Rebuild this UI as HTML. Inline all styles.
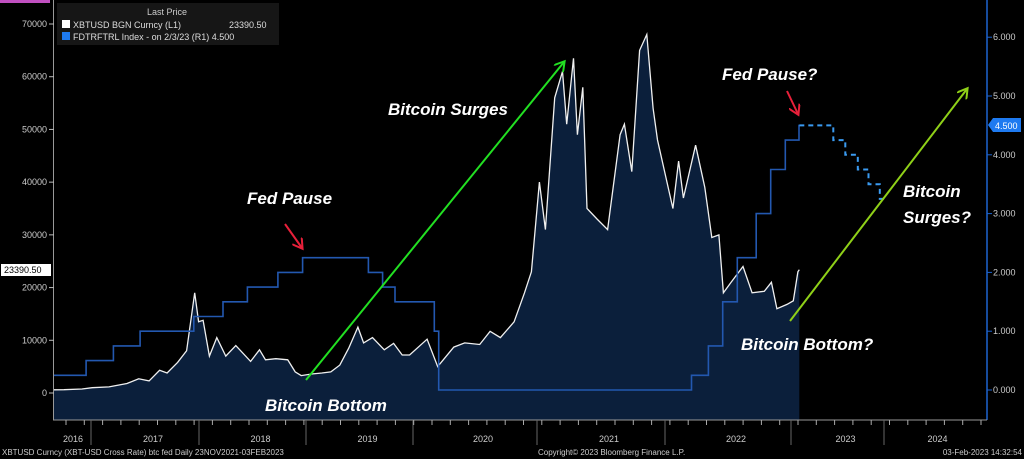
<!DOCTYPE html>
<html><head><meta charset="utf-8">
<style>
html,body{margin:0;padding:0;background:#000;}
svg{display:block;font-family:"Liberation Sans",sans-serif;}
.ann{font-family:"Liberation Sans",sans-serif;font-weight:bold;font-style:italic;font-size:17px;fill:#fff;}
.tk{font-size:9px;fill:#ccc;}
</style></head>
<body>
<svg id="chart" width="1024" height="459" viewBox="0 0 1024 459">
<defs>
<clipPath id="pc"><rect x="54" y="0" width="933" height="420"/></clipPath>
</defs>
<g id="plot" clip-path="url(#pc)"></g>
<g id="axes"></g>
</svg>
<script>
const priceDates=["2016-06-01","2016-08-01","2016-10-01","2016-12-01","2017-01-05","2017-03-01","2017-05-01","2017-06-10","2017-07-15","2017-08-20","2017-09-15","2017-10-20","2017-11-20","2017-12-17","2017-12-30","2018-01-15","2018-02-06","2018-03-01","2018-04-01","2018-05-05","2018-06-25","2018-07-25","2018-08-15","2018-09-20","2018-10-30","2018-11-25","2018-12-15","2019-01-20","2019-02-25","2019-03-25","2019-04-25","2019-05-25","2019-06-26","2019-07-15","2019-08-15","2019-09-25","2019-10-26","2019-11-25","2019-12-20","2020-02-12","2020-03-13","2020-04-30","2020-06-01","2020-07-15","2020-08-15","2020-09-15","2020-10-25","2020-11-25","2020-12-15","2021-01-08","2021-01-25","2021-02-21","2021-03-13","2021-03-25","2021-04-14","2021-04-25","2021-05-10","2021-05-22","2021-06-20","2021-07-20","2021-08-25","2021-09-07","2021-09-28","2021-10-20","2021-11-10","2021-11-28","2021-12-10","2022-01-24","2022-02-10","2022-02-24","2022-03-29","2022-04-25","2022-05-15","2022-06-05","2022-06-18","2022-07-10","2022-08-14","2022-09-10","2022-10-15","2022-11-05","2022-11-21","2022-12-20","2023-01-10","2023-01-28","2023-02-03"];
const priceValues=[600,580,620,760,1000,1150,1800,2700,2300,4300,3800,5800,8000,19000,13500,13800,7000,10500,7000,9000,6000,8200,6300,6500,6300,4000,3300,3600,3800,4000,5300,8500,12500,9500,10500,8200,9400,7200,7200,10200,5000,8700,9500,9200,11700,10500,13500,19000,23000,40000,31000,56000,61000,51000,63500,49000,58000,35000,33000,31000,49000,51000,42000,65000,68000,54000,48000,35000,44000,37000,47000,39000,29500,30000,19000,21000,24000,19000,19300,21000,16000,16800,17500,23000,23390];
const rateDates=["2016-06-01","2016-12-15","2017-03-16","2017-06-15","2017-12-14","2018-03-22","2018-06-14","2018-09-27","2018-12-20","2019-08-01","2019-09-19","2019-10-31","2020-03-03","2020-03-16","2022-03-17","2022-05-05","2022-06-16","2022-07-28","2022-09-22","2022-11-03","2022-12-15","2023-02-02","2023-02-03"];
const rateValues=[0.25,0.5,0.75,1.0,1.25,1.5,1.75,2.0,2.25,2.0,1.75,1.5,1.0,0.0,0.25,0.75,1.5,2.25,3.0,3.75,4.25,4.5,4.5];
const fcDates=["2023-02-03","2023-05-01","2023-06-15","2023-08-01","2023-09-20","2023-11-01","2023-12-15","2024-01-05"];
const fcValues=[4.5,4.5,4.25,4.0,3.75,3.5,3.25,3.25];
const leftTicks=[0,10000,20000,30000,40000,50000,60000,70000];
const rightTicks=[0,1,2,3,4,5,6];
const years=[2016,2017,2018,2019,2020,2021,2022,2023,2024];
const yearStarts=[-17,91,199,306,413,537,665,791,884,975];

const NS="http://www.w3.org/2000/svg";
function el(t,a,p){const e=document.createElementNS(NS,t);for(const k in a)e.setAttribute(k,a[k]);p.appendChild(e);return e;}
function xOf(d){const [y,m,dd]=d.split("-").map(Number);const f=((m-1)+(dd-1)/30.5)/12;const i=y-2016;return yearStarts[i]+(yearStarts[i+1]-yearStarts[i])*f;}
function yL(v){return 393-v*(369/70000);}
function yR(v){return 390-v*58.8;}
const plot=document.getElementById("plot"),axes=document.getElementById("axes");

let d="M"+xOf(priceDates[0])+",420";
priceDates.forEach((t,i)=>{d+=" L"+xOf(t).toFixed(1)+","+yL(priceValues[i]).toFixed(1);});
d+=" L"+xOf(priceDates[priceDates.length-1]).toFixed(1)+",420 Z";
const area=el("path",{d:d,fill:"#0b1f3b"},plot);


let l="";priceDates.forEach((t,i)=>{l+=(i?" L":"M")+xOf(t).toFixed(1)+","+yL(priceValues[i]).toFixed(1);});
const line=el("path",{d:l,fill:"none",stroke:"#f0f0f0","stroke-width":1.3},plot);


let s="";rateDates.forEach((t,i)=>{const x=xOf(t).toFixed(1),y=yR(rateValues[i]).toFixed(1);if(!i)s="M"+x+","+y;else s+=" H"+x+" V"+y;});
const rate=el("path",{d:s,fill:"none",stroke:"#2358b0","stroke-width":1.6},plot);


let f="";fcDates.forEach((t,i)=>{const x=xOf(t).toFixed(1),y=yR(fcValues[i]).toFixed(1);if(!i)f="M"+x+","+y;else f+=" H"+x+" V"+y;});
const fc=el("path",{d:f,fill:"none",stroke:"#3a9af0","stroke-width":2,"stroke-dasharray":"5,4"},plot);



el("line",{x1:53.5,y1:0,x2:53.5,y2:420,stroke:"#999"},axes);
el("line",{x1:987,y1:0,x2:987,y2:420,stroke:"#1e64d0","stroke-width":1.5},axes);
el("line",{x1:53,y1:420,x2:987,y2:420,stroke:"#999"},axes);
leftTicks.forEach(v=>{const y=yL(v);el("line",{x1:49,y1:y,x2:54,y2:y,stroke:"#bbb"},axes);
 const t=el("text",{x:47,y:y+3,"text-anchor":"end",class:"tk"},axes);t.textContent=v;
 });
rightTicks.forEach(v=>{const y=yR(v);el("line",{x1:987,y1:y,x2:992,y2:y,stroke:"#1e64d0"},axes);
 const t=el("text",{x:993,y:y+3,class:"tk"},axes);t.textContent=v.toFixed(3);
 });
years.forEach((yr,i)=>{const a=yearStarts[i],b=yearStarts[i+1];
 if(i>0){el("line",{x1:a,y1:420,x2:a,y2:445,stroke:"#666"},axes);}
 const cx=i===0?73:(a+b)/2+8;
 const t=el("text",{x:cx,y:442,"text-anchor":"middle",class:"tk"},axes);t.textContent=yr;
 });
for(let x=66;x<987;x+=18.3){el("line",{x1:x,y1:420,x2:x,y2:425,stroke:"#aaa"},axes);}
</script>
<svg width="1024" height="459" style="position:absolute;left:0;top:0">
<defs>
<marker id="g2" markerWidth="12" markerHeight="12" refX="9" refY="6" orient="auto" markerUnits="userSpaceOnUse"><path d="M0,0 L10,6 L0,12" fill="none" stroke="#22e022" stroke-width="2"/></marker>
<marker id="y2" markerWidth="12" markerHeight="12" refX="9" refY="6" orient="auto" markerUnits="userSpaceOnUse"><path d="M0,0 L10,6 L0,12" fill="none" stroke="#8fd018" stroke-width="2"/></marker>
<marker id="r2" markerWidth="12" markerHeight="12" refX="9" refY="6" orient="auto" markerUnits="userSpaceOnUse"><path d="M0,0 L10,6 L0,12" fill="none" stroke="#e8203a" stroke-width="2"/></marker>
</defs>
<rect x="0" y="0" width="50" height="3" fill="#c050c0"/>
<g>
<rect x="57" y="3" width="222" height="42" fill="#161616"/>
<text x="147" y="15" font-family="Liberation Sans" font-size="9" fill="#ccc">Last Price</text>
<rect x="62" y="20" width="8" height="8" fill="#fff"/>
<text x="73" y="28" font-family="Liberation Sans" font-size="9" fill="#ddd">XBTUSD BGN Curncy  (L1)</text>
<text x="229" y="28" font-family="Liberation Sans" font-size="9" fill="#ddd">23390.50</text>
<rect x="62" y="32" width="8" height="8" fill="#1e7af0"/>
<text x="73" y="40" font-family="Liberation Sans" font-size="9" fill="#ddd">FDTRFTRL Index  -  on 2/3/23  (R1) 4.500</text>
</g>
<rect x="1" y="264" width="50" height="12" fill="#fff"/>
<text x="4" y="273" font-family="Liberation Sans" font-size="9" fill="#000">23390.50</text>
<path d="M988,125 L993,118 H1021 V132 H993 Z" fill="#1e7af0"/>
<text x="995" y="129" font-family="Liberation Sans" font-size="9" fill="#fff">4.500</text>
<g class="ann">
<text x="247" y="204">Fed Pause</text>
<text x="388" y="115">Bitcoin Surges</text>
<text x="265" y="411">Bitcoin Bottom</text>
<text x="722" y="80">Fed Pause?</text>
<text x="903" y="197">Bitcoin</text>
<text x="903" y="223">Surges?</text>
<text x="741" y="350">Bitcoin Bottom?</text>
</g>
<line x1="306" y1="380" x2="564" y2="62" stroke="#22e022" stroke-width="2" marker-end="url(#g2)"/>
<line x1="790" y1="321" x2="967" y2="89" stroke="#8fd018" stroke-width="2" marker-end="url(#y2)"/>
<line x1="285" y1="224" x2="302" y2="248" stroke="#e8203a" stroke-width="2" marker-end="url(#r2)"/>
<line x1="787" y1="91" x2="798" y2="114" stroke="#e8203a" stroke-width="2" marker-end="url(#r2)"/>
<g font-family="Liberation Sans" font-size="8" fill="#ccc">
<text x="2" y="455">XBTUSD Curncy (XBT-USD Cross Rate) btc fed  Daily 23NOV2021-03FEB2023</text>
<text x="538" y="455">Copyright© 2023 Bloomberg Finance L.P.</text>
<text x="1022" y="455" text-anchor="end">03-Feb-2023 14:32:54</text>
</g>
</svg>
</body></html>
